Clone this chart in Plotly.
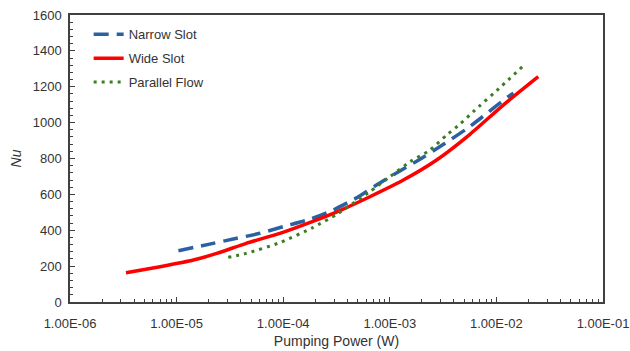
import plotly.graph_objects as go

# Data
wide_x = [3.35e-6, 7.0e-6, 1.44e-5, 2.38e-5, 4.5e-5, 9.3e-5, 1.9e-4, 3.2e-4, 6.5e-4,
          1.34e-3, 2.75e-3, 5.65e-3, 1.16e-2, 2.47e-2]
wide_y = [163, 197, 234, 271, 327, 383, 450, 503, 587, 680, 792, 935, 1098, 1256]

narrow_x = [1.04e-5, 2.2e-5, 3.66e-5, 6.05e-5, 1.0e-4, 1.78e-4, 2.95e-4, 4.9e-4, 7.5e-4,
            1.29e-3, 2.06e-3, 3.3e-3, 5.26e-3, 7.5e-3, 1.29e-2, 1.45e-2]
narrow_y = [286, 327, 355, 383, 420, 461, 513, 581, 652, 736, 807, 885, 965, 1035, 1145, 1163]

parallel_x = [3.05e-5, 4.5e-5, 9.3e-5, 1.9e-4, 3.2e-4, 6.5e-4, 1.0e-3, 1.55e-3, 2.38e-3,
              3.42e-3, 4.56e-3, 6.07e-3, 1.12e-2, 1.79e-2]
parallel_y = [249, 271, 331, 415, 490, 615, 698, 782, 847, 931, 992, 1061, 1204, 1317]

x_tickvals = [1e-6, 1e-5, 1e-4, 1e-3, 1e-2, 1e-1]
x_ticktext = ["1.00E-06", "1.00E-05", "1.00E-04", "1.00E-03", "1.00E-02", "1.00E-01"]
x_minor = [m * d for d in [1e-6, 1e-5, 1e-4, 1e-3, 1e-2] for m in range(2, 10)]

FONT = "Liberation Sans, Arial, sans-serif"
TXT = "#333333"
AX = "#404040"

fig = go.Figure()
fig.add_trace(go.Scatter(x=narrow_x, y=narrow_y, mode="lines", name="Narrow Slot",
                         line=dict(color="#2B61A0", width=3.5, dash="15px,8px",
                                   shape="spline", smoothing=0.6),
                         legendgroup="a"))
fig.add_trace(go.Scatter(x=wide_x, y=wide_y, mode="lines", name="Wide Slot",
                         line=dict(color="#FF0000", width=3.5, shape="spline", smoothing=0.6),
                         legendgroup="b"))
fig.add_trace(go.Scatter(x=parallel_x, y=parallel_y, mode="lines", name="Parallel Flow",
                         line=dict(color="#3A7D22", width=3, dash="3px,5px",
                                   shape="spline", smoothing=0.6),
                         legendgroup="c"))

fig.update_layout(
    width=630, height=351,
    margin=dict(l=70, r=27, t=15, b=49, autoexpand=False),
    paper_bgcolor="white", plot_bgcolor="white",
    font=dict(family=FONT, size=13, color=TXT),
    showlegend=True,
    legend=dict(x=0.035, y=0.985, xanchor="left", yanchor="top",
                bgcolor="rgba(0,0,0,0)", font=dict(size=13, color=TXT),
                tracegroupgap=4),
)
fig.update_xaxes(
    type="log", range=[-6, -1], automargin=False,
    tickmode="array", tickvals=x_tickvals, ticktext=x_ticktext,
    ticks="inside", ticklen=5, tickcolor=AX, tickwidth=1,
    ticklabelstandoff=9,
    minor=dict(tickmode="array", tickvals=x_minor, ticks="inside", ticklen=3,
               tickcolor=AX, showgrid=False),
    showgrid=False, zeroline=False,
    showline=True, linecolor=AX, linewidth=1.5, mirror=True,
    title=dict(text="Pumping Power (W)", font=dict(size=14, color=TXT), standoff=6),
    tickfont=dict(size=13, color=TXT),
)
fig.update_yaxes(
    range=[0, 1600], dtick=200, tick0=0, automargin=False,
    ticks="inside", ticklen=5, tickcolor=AX, tickwidth=1,
    ticklabelstandoff=4,
    minor=dict(dtick=40, ticks="inside", ticklen=3, tickcolor=AX, showgrid=False),
    showgrid=False, zeroline=False,
    showline=True, linecolor=AX, linewidth=1.5, mirror=True,
    title=dict(text="<i>Nu</i>", font=dict(size=14, color=TXT), standoff=8),
    tickfont=dict(size=13, color=TXT),
)

fig.write_html("out.html")
